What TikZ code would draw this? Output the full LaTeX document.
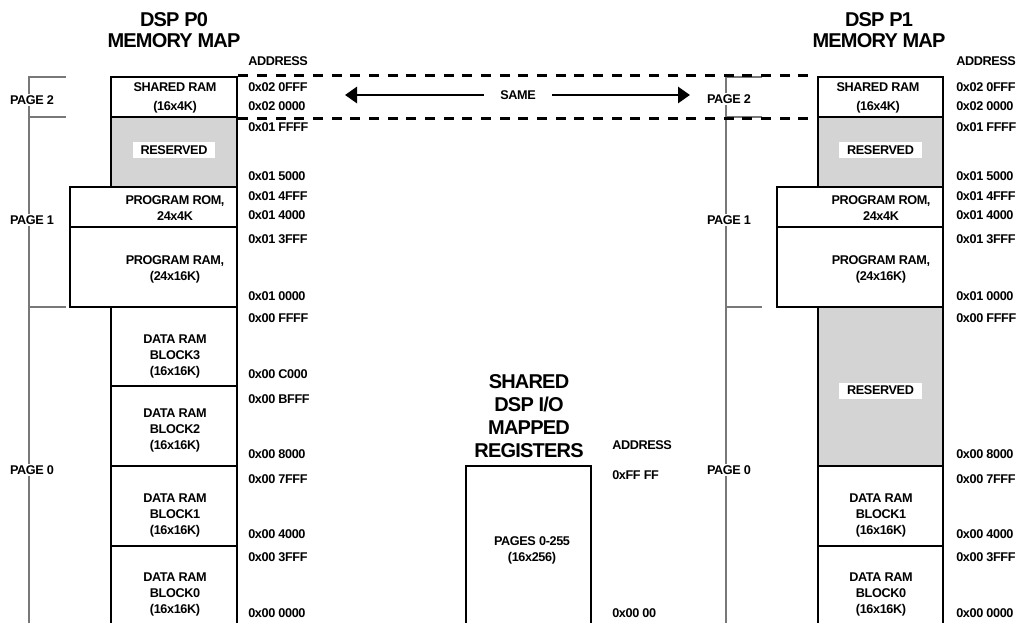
\documentclass[tikz,border=0pt]{standalone}
\usepackage{fontspec}
\setmainfont{Liberation Sans}
\newfontfamily\mapfont[LetterSpace=-3]{Liberation Sans}
\newfontfamily\maptitlefont[LetterSpace=-4]{Liberation Sans}
\usetikzlibrary{arrows.meta,positioning,fit}

\definecolor{resgray}{RGB}{212,212,212}
\definecolor{bracketgray}{RGB}{120,120,120}

\begin{document}
\begin{tikzpicture}[
    x=0.75pt, y=-0.75pt,
    every node/.style={font=\fontsize{9.5}{12}\mapfont\bfseries, inner sep=0pt},
    title/.style={font=\fontsize{15}{15.75}\maptitlefont\bfseries, align=center},
    block/.style={draw, line width=2.2pt, inner sep=0pt},
    reserved/.style={block, fill=resgray},
    blocktext/.style={align=center},
    addr/.style={anchor=west},
    resbox/.style={fill=white, minimum width=62pt, minimum height=12pt},
    pagetag/.style={fill=white, inner sep=1pt},
    bracket/.style={line width=1pt, bracketgray},
    shareline/.style={dash pattern=on 7.5pt off 6.5pt, line width=1.6pt},
    samearrow/.style={-{Triangle[length=9pt,width=12pt]}, line width=2.2pt}
]
    \useasboundingbox (0,0) rectangle (1019,623);
    \clip (0,0) rectangle (1019,623);

    % 1. Page brackets (left and right)
    \coordinate (brL) at (29,77);
    \coordinate (brR) at (726,77);
    \draw[bracket] (brL) ++(37,0) -- (brL) -- (29,640);
    \draw[bracket] (29,117) -- ++(37,0) (29,307) -- ++(37,0);
    \draw[bracket] (brR) ++(36,0) -- (brR) -- (726,640);
    \draw[bracket] (726,117) -- ++(36,0) (726,307) -- ++(36,0);
    \node[pagetag] (pg2L) at (32,100) {PAGE 2};
    \node[pagetag] (pg1L) at (32,220) {PAGE 1};
    \node[pagetag] (pg0L) at (32,470) {PAGE 0};
    \node[pagetag] (pg2R) at (729,99) {PAGE 2};
    \node[pagetag] (pg1R) at (729,220) {PAGE 1};
    \node[pagetag] (pg0R) at (729,470) {PAGE 0};

    % 2. DSP P0 memory map (left)
    \node[title] (titleL) at (174,30.5) {DSP P0\\MEMORY MAP};
    \node[addr] (addrhL) at (248,61) {ADDRESS};

    \node[block, fit={(111,77) (237,117)}] (sharedL) {};
    \node[reserved, fit={(111,117) (237,187)}] (resL) {};
    \node[block, fit={(70,187) (237,227)}] (romL) {};
    \node[block, fit={(70,227) (237,307)}] (pramL) {};
    \node[block, fit={(111,307) (237,386)}] (blk3L) {};
    \node[block, fit={(111,386) (237,466)}] (blk2L) {};
    \node[block, fit={(111,466) (237,546)}] (blk1L) {};
    \node[block, fit={(111,546) (237,650)}] (blk0L) {};

    \node[blocktext, font=\fontsize{9.5}{14.25}\mapfont\bfseries] (sharedLt) at (175,97.5) {SHARED RAM\\(16x4K)};
    \node[resbox] (resLt) at (174,150.5) {RESERVED};
    \node[blocktext] (romLt) at (175,208.5) {PROGRAM ROM,\\24x4K};
    \node[blocktext] (pramLt) at (175,269) {PROGRAM RAM,\\(24x16K)};
    \node[blocktext] (blk3Lt) at (175,356.5) {DATA RAM\\BLOCK3\\(16x16K)};
    \node[blocktext] (blk2Lt) at (175,430.5) {DATA RAM\\BLOCK2\\(16x16K)};
    \node[blocktext] (blk1Lt) at (175,515) {DATA RAM\\BLOCK1\\(16x16K)};
    \node[blocktext] (blk0Lt) at (175,594.5) {DATA RAM\\BLOCK0\\(16x16K)};

    % 3. DSP P1 memory map (right)
    \node[title] (titleR) at (879,30.5) {DSP P1\\MEMORY MAP};
    \node[addr] (addrhR) at (956,61) {ADDRESS};

    \node[block, fit={(818,77) (943,117)}] (sharedR) {};
    \node[reserved, fit={(818,117) (943,187)}] (resR) {};
    \node[block, fit={(777,187) (943,227)}] (romR) {};
    \node[block, fit={(777,227) (943,307)}] (pramR) {};
    \node[reserved, fit={(818,307) (943,466)}] (res0R) {};
    \node[block, fit={(818,466) (943,546)}] (blk1R) {};
    \node[block, fit={(818,546) (943,650)}] (blk0R) {};

    \node[blocktext, font=\fontsize{9.5}{14.25}\mapfont\bfseries] (sharedRt) at (878,97.5) {SHARED RAM\\(16x4K)};
    \node[resbox] (resRt) at (880.5,150.5) {RESERVED};
    \node[blocktext] (romRt) at (881,208.5) {PROGRAM ROM,\\24x4K};
    \node[blocktext] (pramRt) at (881,269) {PROGRAM RAM,\\(24x16K)};
    \node[resbox] (res0Rt) at (880.5,390.5) {RESERVED};
    \node[blocktext] (blk1Rt) at (881,515) {DATA RAM\\BLOCK1\\(16x16K)};
    \node[blocktext] (blk0Rt) at (881,594.5) {DATA RAM\\BLOCK0\\(16x16K)};

    % 4. Address labels
    \foreach \ay/\at in {87/0x02 0FFF, 106/0x02 0000, 127/0x01 FFFF, 176/0x01 5000,
        196/0x01 4FFF, 215/0x01 4000, 239/0x01 3FFF, 296/0x01 0000, 318/0x00 FFFF,
        454/0x00 8000, 479/0x00 7FFF, 534/0x00 4000, 557/0x00 3FFF, 613/0x00 0000} {
        \node[addr] (addrL-\ay) at (248,\ay) {\at};
        \node[addr] (addrR-\ay) at (956,\ay) {\at};
    }
    \node[addr] (addrL-374) at (248,374) {0x00 C000};
    \node[addr] (addrL-399) at (248,399) {0x00 BFFF};

    % 5. Shared I/O registers (middle)
    \node[title, font=\fontsize{15}{17.25}\maptitlefont\bfseries] (regtitle) at (529,416) {SHARED\\DSP I/O\\MAPPED\\REGISTERS};
    \node[block, fit={(466,466) (591,650)}] (regs) {};
    \node[blocktext] (regst) at (532,550.5) {PAGES 0-255\\(16x256)};
    \node[addr] (addrhM) at (612,445) {ADDRESS};
    \node[addr] (addrM-top) at (612,475) {0xFF FF};
    \node[addr] (addrM-bot) at (612,613) {0x00 00};

    % 6. Shared RAM is the same in both maps
    \draw[shareline] (sharedL.north east) -- (sharedR.north west);
    \draw[shareline] (sharedL.south east) -- (sharedR.south west);
    \node[minimum width=51pt] (same) at (518,95) {SAME};
    \coordinate (sameL) at (345,95);
    \coordinate (sameR) at (690,95);
    \draw[samearrow] (same.west) -- (sameL);
    \draw[samearrow] (same.east) -- (sameR);

\end{tikzpicture}
\end{document}
